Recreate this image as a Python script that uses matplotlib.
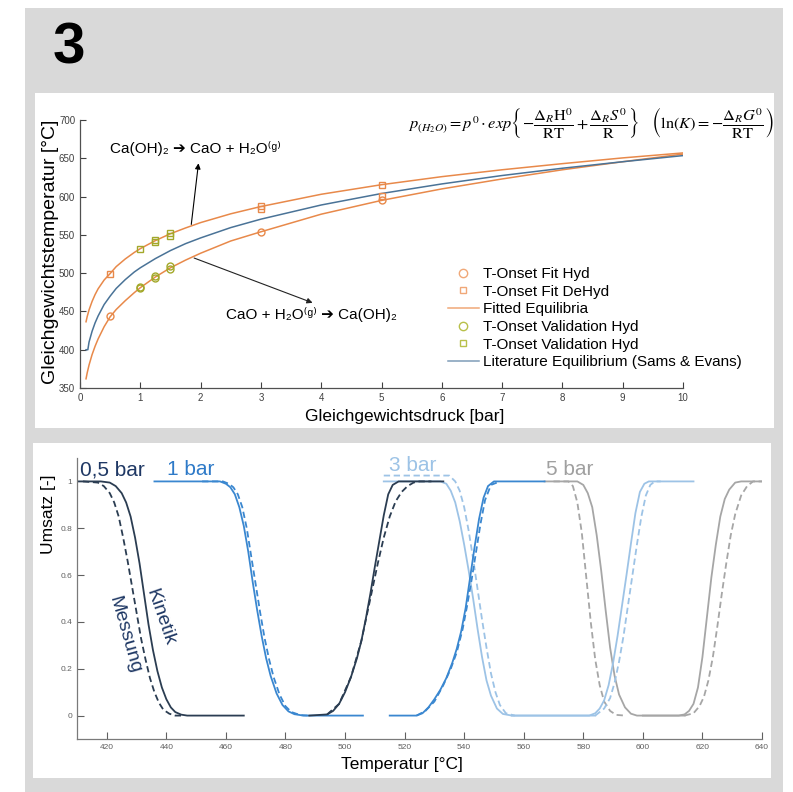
import numpy as np
import matplotlib.pyplot as plt
from matplotlib.patches import Rectangle
from matplotlib.lines import Line2D

plt.rcParams['font.family'] = ['Liberation Sans', 'DejaVu Sans']
plt.rcParams['mathtext.fontset'] = 'custom'
plt.rcParams['mathtext.rm'] = 'Liberation Sans'
plt.rcParams['mathtext.it'] = 'Liberation Sans:italic'
plt.rcParams['mathtext.bf'] = 'Liberation Sans:bold'

# ---- top chart: equilibrium temperature vs. pressure ----
p_fit = [0.1, 0.12, 0.15, 0.2, 0.25, 0.3, 0.4, 0.5, 0.6, 0.75, 0.9, 1, 1.25, 1.5, 1.75,
         2, 2.5, 3, 4, 5, 6, 7, 8, 9, 10]
t_fit_dehyd = [436.5, 443.5, 452, 463, 472, 479.5, 491, 499.5, 508.5, 518.5, 527, 532, 542.5,
               551.5, 559, 566, 577.5, 587, 603, 615.5, 626, 635, 643, 650.5, 657]
t_fit_hyd = [362, 370, 380, 393.5, 404.5, 414, 430, 443, 452.5, 464, 474.5, 481, 495, 507,
             517, 526, 542, 554, 577, 595, 610, 623, 635, 645.5, 655.5]
p_lit = [0.1, 0.13, 0.15, 0.2, 0.25, 0.3, 0.4, 0.5, 0.6, 0.75, 0.9, 1, 1.25, 1.5, 1.75,
         2, 2.5, 3, 4, 5, 6, 7, 8, 9, 10]
t_lit = [400, 400, 410, 424, 435, 444, 459, 470, 480, 491.5, 501.5, 507, 519, 529.5, 538.5,
         546, 559.5, 570.5, 589, 604, 616.5, 627.5, 637, 645.5, 653.5]

p_onset_hyd = [0.5, 3, 5]
t_onset_hyd = [444, 553.5, 595]
p_onset_dehyd = [0.5, 3, 3, 5, 5]
t_onset_dehyd = [499, 584, 588, 600.5, 615.5]
p_val_hyd = [1, 1, 1.25, 1.25, 1.5, 1.5]
t_val_hyd = [480, 482, 494, 496, 505, 509]
p_val_dehyd = [1, 1.25, 1.25, 1.5, 1.5]
t_val_dehyd = [532, 541, 543, 548, 552.5]

# ---- bottom chart: conversion vs. temperature ----
# (T, U) pairs, solid = Kinetik, dashed = Messung
k05_down_t = [410, 418, 421, 423, 425, 426.5, 428, 429.5, 431, 432.5, 434, 435.5, 437, 438.5, 440, 441.5, 443, 445, 447, 466]
k05_down_u = [1, 1, 0.995, 0.98, 0.95, 0.91, 0.85, 0.76, 0.65, 0.52, 0.39, 0.28, 0.19, 0.12, 0.07, 0.035, 0.015, 0.004, 0, 0]
m05_down_t = [412, 417, 419, 421, 422.5, 424, 425.5, 427, 428.5, 430, 431.5, 433, 434.5, 436, 437.5, 439, 441, 443, 446]
m05_down_u = [1, 0.995, 0.98, 0.95, 0.91, 0.85, 0.76, 0.66, 0.55, 0.44, 0.33, 0.24, 0.16, 0.10, 0.055, 0.025, 0.008, 0, 0]
k05_up_t = [488, 494, 496, 498, 500, 502, 504, 505.5, 507, 508.5, 510, 511.5, 513, 514.5, 516, 518, 533]
k05_up_u = [0, 0.005, 0.02, 0.05, 0.10, 0.165, 0.245, 0.32, 0.415, 0.52, 0.635, 0.745, 0.855, 0.945, 0.985, 1, 1]
m05_up_t = [494, 498, 502, 505.5, 508.5, 511, 513, 515, 517, 519, 521, 523, 525, 529]
m05_up_u = [0.005, 0.05, 0.165, 0.32, 0.50, 0.65, 0.76, 0.85, 0.915, 0.955, 0.98, 0.995, 1, 1]

k1_down_t = [436, 458, 460, 461.5, 463, 464.5, 466, 467.5, 469, 470.5, 472, 473.5, 475, 477, 479, 481, 483, 486, 506]
k1_down_u = [1, 1, 0.99, 0.975, 0.945, 0.89, 0.81, 0.70, 0.57, 0.45, 0.34, 0.245, 0.17, 0.095, 0.045, 0.018, 0.006, 0, 0]
m1_down_t = [452, 459, 461, 462.5, 464, 465.5, 467, 468.5, 470, 471.5, 473, 474.5, 476, 478, 480, 482, 485, 488]
m1_down_u = [1, 1, 0.99, 0.975, 0.945, 0.89, 0.80, 0.68, 0.56, 0.44, 0.33, 0.24, 0.165, 0.09, 0.04, 0.015, 0.002, 0]
k1_up_t = [515, 524, 526, 528, 530, 532, 534, 536, 537.5, 539, 540.5, 542, 543.5, 545, 546.5, 548, 550, 567]
k1_up_u = [0, 0, 0.01, 0.035, 0.07, 0.11, 0.16, 0.225, 0.285, 0.36, 0.46, 0.59, 0.72, 0.84, 0.93, 0.98, 1, 1]
m1_up_t = [524, 527, 530, 533, 535.5, 537.5, 539.5, 541, 542.5, 544, 545.5, 547, 549, 552]
m1_up_u = [0, 0.02, 0.06, 0.13, 0.20, 0.27, 0.37, 0.47, 0.58, 0.70, 0.82, 0.92, 0.985, 1]

k3_down_t = [513, 532, 534, 535.5, 537, 538.5, 540, 541.5, 543, 544.5, 546, 547.5, 549, 551, 553, 556, 584]
k3_down_u = [1, 1, 0.99, 0.96, 0.91, 0.83, 0.73, 0.62, 0.50, 0.37, 0.25, 0.15, 0.085, 0.03, 0.007, 0, 0]
m3_down_t = [513, 535, 537, 538.5, 540, 541.5, 543, 544.5, 546, 547.5, 549, 550.5, 552, 554, 557]
m3_down_u = [1.025, 1.025, 1.0, 0.96, 0.89, 0.79, 0.67, 0.54, 0.41, 0.29, 0.18, 0.10, 0.045, 0.01, 0]
k3_up_t = [556, 582, 584, 585.5, 587, 588.5, 590, 591.5, 593, 594.5, 596, 597.5, 599, 600.5, 602, 617]
k3_up_u = [0, 0, 0.01, 0.03, 0.065, 0.13, 0.225, 0.34, 0.47, 0.60, 0.735, 0.865, 0.955, 0.99, 1, 1]
m3_up_t = [584, 587, 589, 590.5, 592, 593.5, 595, 596.5, 598, 599.5, 601, 602.5, 604, 606]
m3_up_u = [0, 0.03, 0.075, 0.14, 0.23, 0.34, 0.47, 0.60, 0.73, 0.85, 0.94, 0.985, 1, 1]

k5_down_t = [567, 578, 580, 581.5, 583, 584.5, 586, 587.5, 589, 590.5, 592, 594, 596, 598, 614]
k5_down_u = [1, 1, 0.985, 0.95, 0.89, 0.77, 0.62, 0.45, 0.29, 0.17, 0.09, 0.035, 0.008, 0, 0]
m5_down_t = [570, 575, 576.5, 578, 579.5, 581, 582.5, 584, 585.5, 587, 589, 591, 594]
m5_down_u = [1, 1, 0.98, 0.91, 0.78, 0.59, 0.40, 0.24, 0.13, 0.06, 0.02, 0.003, 0]
k5_up_t = [600, 612, 614, 615.5, 617, 618.5, 620, 621.5, 623, 624.5, 626, 627.5, 629, 631, 633, 640]
k5_up_u = [0, 0, 0.005, 0.02, 0.05, 0.12, 0.25, 0.42, 0.59, 0.73, 0.85, 0.925, 0.965, 0.995, 1, 1]
m5_up_t = [614, 617, 619, 620.5, 622, 623.5, 625, 626.5, 628, 629.5, 631, 633, 635, 637, 640]
m5_up_u = [0, 0.01, 0.04, 0.08, 0.15, 0.25, 0.38, 0.52, 0.65, 0.77, 0.86, 0.94, 0.98, 1, 1]

W, H = 793, 792


def fx(x):
    return x / W


def fy(y):
    return 1 - y / H


def rect(x0, y0, x1, y1, color):
    fig.add_artist(Rectangle((fx(x0), fy(y1)), fx(x1) - fx(x0), fy(y0) - fy(y1),
                             transform=fig.transFigure, color=color, zorder=-10, lw=0))


fig = plt.figure(figsize=(W / 100, H / 100), dpi=100)
fig.patch.set_facecolor('white')
rect(25, 8, 783, 792, '#d9d9d9')
rect(35, 93, 774, 428, 'white')
rect(33, 443, 771, 778, 'white')

fig.text(fx(69), fy(48), '3', fontsize=42, fontweight='bold', ha='center', va='center')

orange = '#e8894a'
olive = '#a3a82a'
steel = '#4a7397'

ax1 = fig.add_axes([fx(80), fy(388), fx(683) - fx(80), fy(120) - fy(388)])
ax1.set_facecolor('none')
ax1.plot(p_fit, t_fit_dehyd, color=orange, lw=1.1, label='Fitted Equilibria')
ax1.plot(p_fit, t_fit_hyd, color=orange, lw=1.1)
ax1.plot(p_lit, t_lit, color=steel, lw=1.1, label='Literature Equilibrium (Sams & Evans)')
mk = dict(ls='none', mfc='none', mew=1.0, ms=5, zorder=3)
ax1.plot(p_onset_hyd, t_onset_hyd, marker='o', mec=orange, label='T-Onset Fit Hyd', **mk)
ax1.plot(p_onset_dehyd, t_onset_dehyd, marker='s', mec=orange, label='T-Onset Fit DeHyd',
         **{**mk, 'ms': 4.2})
ax1.plot(p_val_hyd, t_val_hyd, marker='o', mec=olive, label='T-Onset Validation Hyd', **mk)
ax1.plot(p_val_dehyd, t_val_dehyd, marker='s', mec=olive, label='T-Onset Validation Hyd',
         **{**mk, 'ms': 4.2})
ax1.set_xlim(0, 10)
ax1.set_ylim(350, 700)
ax1.set_xticks(range(0, 11))
ax1.set_yticks(range(350, 701, 50))
for s in ['top', 'right']:
    ax1.spines[s].set_visible(False)
for s in ['left', 'bottom']:
    ax1.spines[s].set_color('#505050')
    ax1.spines[s].set_linewidth(0.9)
ax1.tick_params(direction='in', length=4, width=0.8, labelsize=7, colors='#404040')

handles, labels = ax1.get_legend_handles_labels()
order = [2, 3, 0, 4, 5, 1]
leg_handles = [Line2D([], [], ls='none', marker='o', mfc='none', mec='#f0a878', ms=6),
               Line2D([], [], ls='none', marker='s', mfc='none', mec='#f0a878', ms=4.5),
               Line2D([], [], color='#f0a878', lw=1.1),
               Line2D([], [], ls='none', marker='o', mfc='none', mec='#b8c04a', ms=6),
               Line2D([], [], ls='none', marker='s', mfc='none', mec='#b8c04a', ms=4.5),
               Line2D([], [], color='#7f9cb8', lw=1.1)]
ax1.legend(leg_handles, [labels[i] for i in order], loc='upper left',
           bbox_to_anchor=((448 - 80) / 603, (388 - 267) / 268), frameon=False,
           fontsize=11, borderpad=0, borderaxespad=0, handlelength=2.0,
           handletextpad=0.3, labelspacing=0.24)

ax1.annotate('', xy=(1.97, 647), xytext=(1.84, 560),
             arrowprops=dict(arrowstyle='-|>', color='black', lw=0.8, mutation_scale=8))
ax1.annotate('', xy=(3.9, 460), xytext=(1.85, 521),
             arrowprops=dict(arrowstyle='-|>', color='#222222', lw=0.8, mutation_scale=8))
ax1.text(1.91, 663, 'Ca(OH)₂ ➔ CaO + H₂O⁽ᵍ⁾', fontsize=11, ha='center', va='center')
ax1.text(3.84, 446, 'CaO + H₂O⁽ᵍ⁾ ➔ Ca(OH)₂', fontsize=11, ha='center', va='center')

fig.text(fx(591), fy(122),
         r'$p_{(H_2O)} = p^0 \cdot exp\left\{-\dfrac{\Delta_R \mathrm{H}^0}{\mathrm{RT}}'
         r' + \dfrac{\Delta_R S^0}{\mathrm{R}}\right\}\quad'
         r'\left(\mathrm{ln}(K) = -\dfrac{\Delta_R G^0}{\mathrm{RT}}\right)$',
         math_fontfamily='stix', fontsize=11.8, ha='center', va='center')

fig.text(fx(51), fy(252), 'Gleichgewichtstemperatur [°C]', rotation=90, fontsize=14,
         ha='center', va='center')
fig.text(fx(405), fy(417), 'Gleichgewichtsdruck [bar]', fontsize=12.5,
         ha='center', va='center')

# ---- bottom chart ----
dark = '#2b3d52'
blue = '#3a87d0'
light = '#9dc3e6'
gray = '#a6a6a6'

ax2 = fig.add_axes([fx(77), fy(739), fx(762) - fx(77), fy(458) - fy(739)])
ax2.set_facecolor('none')
lw = 1.3
curves = [
    (k5_down_t, k5_down_u, m5_down_t, m5_down_u, gray),
    (k5_up_t, k5_up_u, m5_up_t, m5_up_u, gray),
    (k3_down_t, k3_down_u, m3_down_t, m3_down_u, light),
    (k3_up_t, k3_up_u, m3_up_t, m3_up_u, light),
    (k1_down_t, k1_down_u, m1_down_t, m1_down_u, blue),
    (k1_up_t, k1_up_u, m1_up_t, m1_up_u, blue),
    (k05_down_t, k05_down_u, m05_down_t, m05_down_u, dark),
    (k05_up_t, k05_up_u, m05_up_t, m05_up_u, dark),
]
for kt, ku, mt, mu, c in curves:
    ax2.plot(mt, mu, color=c, lw=lw, ls=(0, (3.5, 2)))
    ax2.plot(kt, ku, color=c, lw=lw)

ax2.set_xlim(410, 640)
ax2.set_ylim(-0.1, 1.1)
ax2.set_xticks(range(420, 641, 20))
ax2.set_yticks([0, 0.2, 0.4, 0.6, 0.8, 1])
ax2.set_yticklabels(['0', '0.2', '0.4', '0.6', '0.8', '1'])
for s in ['top', 'right']:
    ax2.spines[s].set_visible(False)
for s in ['left', 'bottom']:
    ax2.spines[s].set_color('#7a7a7a')
    ax2.spines[s].set_linewidth(0.9)
ax2.tick_params(direction='in', length=5, width=0.8, labelsize=6, colors='#606060')

ax2.text(421.9, 1.05, '0,5 bar', color='#1f3864', fontsize=15, ha='center', va='center')
ax2.text(448.2, 1.05, '1 bar', color='#2e7ac8', fontsize=15, ha='center', va='center')
ax2.text(522.8, 1.068, '3 bar', color=light, fontsize=15, ha='center', va='center')
ax2.text(575.3, 1.05, '5 bar', color='#a0a0a0', fontsize=15, ha='center', va='center')
ax2.text(438.0, 0.42, 'Kinetik', color='#1f3864', fontsize=14, rotation=-71,
         rotation_mode='anchor', ha='center', va='center')
ax2.text(426.1, 0.345, 'Messung', color='#1f3864', fontsize=14, rotation=-74,
         rotation_mode='anchor', ha='center', va='center')

fig.text(fx(48), fy(514), 'Umsatz [-]', rotation=90, fontsize=12.5, ha='center', va='center')
fig.text(fx(402), fy(765), 'Temperatur [°C]', fontsize=12.5, ha='center', va='center')

fig.savefig('out.png', dpi=100)
